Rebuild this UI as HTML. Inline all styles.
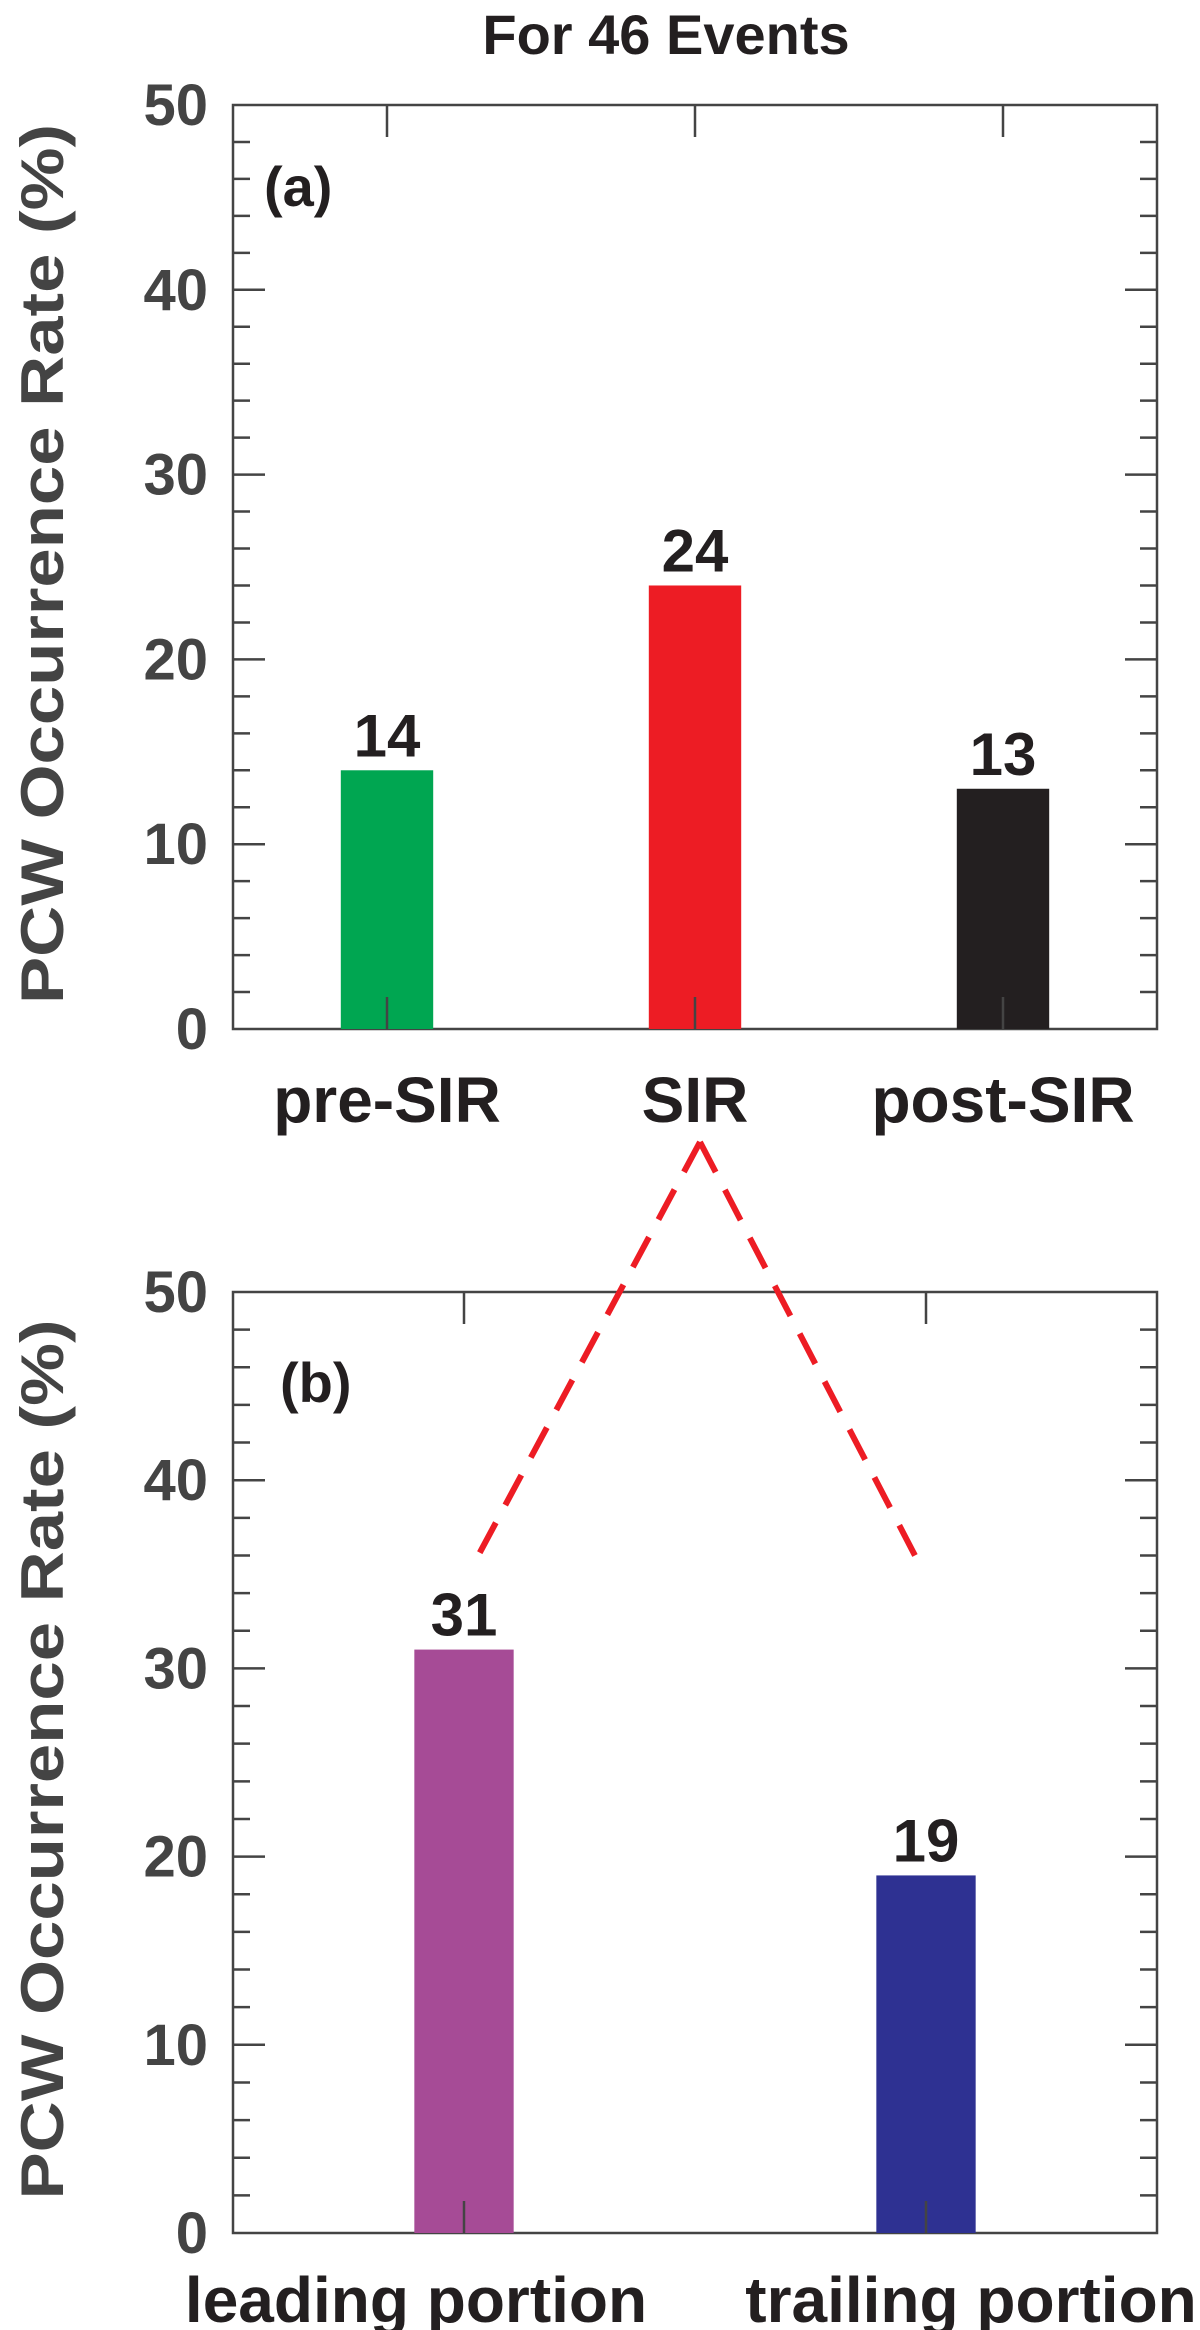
<!DOCTYPE html>
<html><head><meta charset="utf-8"><style>
html,body{margin:0;padding:0;background:#fff;}
svg{display:block;font-family:"Liberation Sans",Arial,sans-serif;font-weight:bold;}
</style></head><body>
<svg id="chart" width="1200" height="2330" viewBox="0 0 1200 2330" xmlns="http://www.w3.org/2000/svg">
<text x="666" y="54" font-size="56" text-anchor="middle" fill="#231f20">For 46 Events</text>
<g id="pa"></g>
<g id="pb"></g>
<g id="links"></g>
</svg>
<script>
const catsA = ["pre-SIR", "SIR", "post-SIR"];
const valsA = [14, 24, 13];
const colorsA = ["#00a651", "#ed1c24", "#231f20"];
const catsB = ["leading portion", "trailing portion"];
const valsB = [31, 19];
const colorsB = ["#a64b96", "#2e3192"];
const yTicks = [0, 10, 20, 30, 40, 50];

const NS = "http://www.w3.org/2000/svg";
function mk(tag, parent, attrs) {
  const e = document.createElementNS(NS, tag);
  for (const k in attrs) e.setAttribute(k, attrs[k]);
  parent.appendChild(e);
  return e;
}

function panel(g, cfg) {
  const {left, right, top, bottom, cats, vals, colors, barFrac, label, labelX, labelY, catLabelY, catLabelX, catFont} = cfg;
  const y = v => bottom - (v / 50) * (bottom - top);
  const band = (right - left) / cats.length;
  const x = i => left + band * (i + 0.5);
  const fr = mk("rect", g, {x: left, y: top, width: right - left, height: bottom - top, fill: "none", stroke: "#444", "stroke-width": 2.5});
  
  
  vals.forEach((v, i) => {
    const w = band * barFrac;
    const b = mk("rect", g, {x: x(i) - w / 2, y: y(v), width: w, height: bottom - y(v), fill: colors[i]});
    
    
    const t = mk("text", g, {x: x(i), y: y(v) - 14, "font-size": 60, "text-anchor": "middle", fill: "#231f20"});
    t.textContent = v;
    
    
  });
  for (let v = 2; v < 50; v += 2) {
    const len = v % 10 === 0 ? 32 : 17;
    mk("line", g, {x1: left, x2: left + len, y1: y(v), y2: y(v), stroke: "#444", "stroke-width": 2.5});
    mk("line", g, {x1: right, x2: right - len, y1: y(v), y2: y(v), stroke: "#444", "stroke-width": 2.5});
  }
  yTicks.forEach(v => {
    const t = mk("text", g, {x: 208, y: y(v) + 20, "font-size": 58, "text-anchor": "end", fill: "#444"});
    t.textContent = v;
    
    
  });
  cats.forEach((c, i) => {
    mk("line", g, {x1: x(i), x2: x(i), y1: top, y2: top + 32, stroke: "#444", "stroke-width": 2.5});
    mk("line", g, {x1: x(i), x2: x(i), y1: bottom, y2: bottom - 32, stroke: "#444", "stroke-width": 2.5});
    const t = mk("text", g, {x: catLabelX ? catLabelX[i] : x(i), y: catLabelY, "font-size": catFont, "text-anchor": "middle", fill: "#231f20"});
    t.textContent = c;
    
    
  });
  const pl = mk("text", g, {x: labelX, y: labelY, "font-size": 56, fill: "#231f20"});
  pl.textContent = label;
  
  
  const cy = (top + bottom) / 2;
  const yt = mk("text", g, {x: 0, y: 0, "font-size": 60, "text-anchor": "middle", fill: "#444", textLength: 880, lengthAdjust: "spacingAndGlyphs", transform: `translate(63,${cy - 3}) rotate(-90)`});
  yt.textContent = "PCW Occurrence Rate (%)";
  
  
}

panel(document.getElementById("pa"), {left: 233, right: 1157, top: 105, bottom: 1029, cats: catsA, vals: valsA, colors: colorsA, barFrac: 0.3, label: "(a)", labelX: 264, labelY: 206, catLabelY: 1122, catFont: 64});
panel(document.getElementById("pb"), {left: 233, right: 1157, top: 1292, bottom: 2233, cats: catsB, vals: valsB, colors: colorsB, barFrac: 0.215, label: "(b)", labelX: 280, labelY: 1402, catLabelY: 2322, catLabelX: [416, 971], catFont: 64});

const L = document.getElementById("links");
[[471, 1569], [922, 1569]].forEach(p => {
  const l = mk("line", L, {x1: 700, y1: 1142, x2: p[0], y2: p[1], stroke: "#ed1c24", "stroke-width": 6, "stroke-dasharray": "34 20"});
  
  
});
</script>
</body></html>
